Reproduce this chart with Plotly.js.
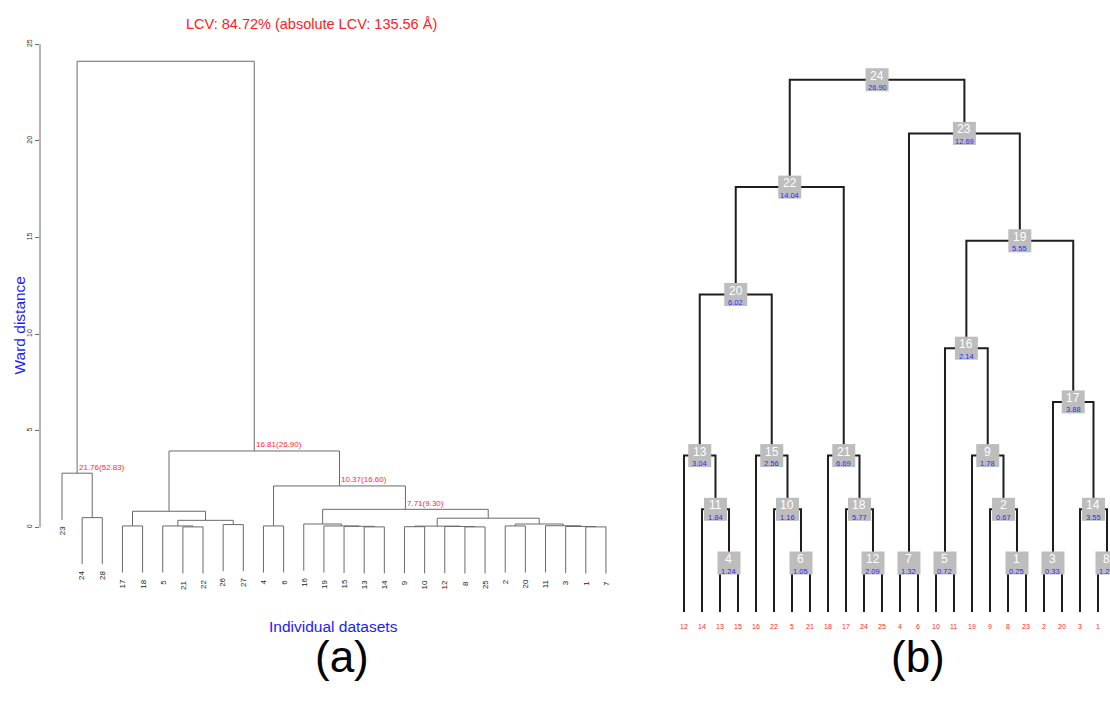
<!DOCTYPE html>
<html><head><meta charset="utf-8">
<script src="https://cdn.plot.ly/plotly-3.0.1.min.js"></script>
<style>html,body{margin:0;padding:0;background:#fff;} #chart{width:1110px;height:702px;}</style>
</head><body><div id="chart"></div>
<script>
// ---------- Panel (a): Ward dendrogram (R hclust style) ----------
const leafOrderA = [23,24,28,17,18,5,21,22,26,27,4,6,16,19,15,13,14,9,10,12,8,25,2,20,11,3,1,7];
// merge steps: negative = leaf label, positive = earlier merge step (1-based)
const mergeLeftA  = [-21,-13,-1,-8,-9,-12,-3,-15,5,-5,-17,-4,-19,-2,-11,-26,-16,14,10,9,-24,11,17,12,-23,22,25];
const mergeRightA = [-22,-14,-7,-25,-10,4,3,2,6,1,-18,-6,8,-20,7,-27,13,15,16,18,-28,19,20,23,21,24,26];
const mergeHeightA = [0.02,0.02,0.02,0.02,0.03,0.04,0.04,0.05,0.06,0.07,0.07,0.07,0.07,0.07,0.08,0.14,0.17,0.17,0.36,0.47,0.50,0.83,0.93,2.14,2.80,3.95,24.12];
const annotatedMergesA = [25,26,24,23];
const annotatedTextsA = ['21.76(52.83)','16.81(26.90)','10.37(16.60)','7.71(9.30)'];
const yTicksA = [0,5,10,15,20,25];

// ---------- Panel (b): numbered merge tree ----------
const leafOrderB = [12,14,13,15,16,22,5,21,18,17,24,25,4,6,10,11,19,9,8,23,2,20,3,1,7];
const nodeLeftB  = [-8,-9,-2,-13,-10,-5,-4,-1,-19,-22,-14,-24,-12,-3,-16,5,3,-17,16,13,-18,20,7,22];
const nodeRightB = [-23,1,-20,-15,-11,-21,-6,-7,2,6,4,-25,11,8,10,9,14,12,17,15,18,21,19,23];
const nodeLevelB = [1,2,1,1,1,1,1,1,3,2,2,1,3,2,3,5,4,2,7,6,3,8,9,10];
const nodeValueB = ['0.25','0.67','0.33','1.24','0.72','1.05','1.32','1.27','1.78','1.16','1.84','2.09','3.04','3.55','2.56','2.14','3.88','5.77','5.55','6.02','6.69','14.04','12.69','26.90'];

const FONT = 'Liberation Sans, Arial, Helvetica, sans-serif';

// ----- layout of tree (a) -----
const posA = {}; leafOrderA.forEach((lab,i)=>posA[lab]=i+1);
const nxA = [];
const cxA = c => c<0 ? posA[-c] : nxA[c-1];
for (let k=0;k<mergeHeightA.length;k++) nxA[k] = (cxA(mergeLeftA[k]) + cxA(mergeRightA[k]))/2;
const hangA = 0.1*Math.max(...mergeHeightA);
const segAx=[], segAy=[];
const leafBottomA = {};
for (let k=0;k<mergeHeightA.length;k++){
  const h = mergeHeightA[k];
  const L = mergeLeftA[k], R = mergeRightA[k];
  const bL = L<0 ? h-hangA : mergeHeightA[L-1];
  const bR = R<0 ? h-hangA : mergeHeightA[R-1];
  if (L<0) leafBottomA[-L]=bL; if (R<0) leafBottomA[-R]=bR;
  segAx.push(cxA(L),cxA(L),cxA(R),cxA(R),null);
  segAy.push(bL,h,h,bR,null);
}

// ----- layout of tree (b) -----
const posB = {}; leafOrderB.forEach((lab,i)=>posB[lab]=i);
const nxB = [];
const cxB = c => c<0 ? posB[-c] : nxB[c-1];
for (let k=0;k<nodeLevelB.length;k++) nxB[k] = (cxB(nodeLeftB[k]) + cxB(nodeRightB[k]))/2;
const leafEndB = 0.0875;
const segBx=[], segBy=[];
for (let k=0;k<nodeLevelB.length;k++){
  const h = nodeLevelB[k];
  const L = nodeLeftB[k], R = nodeRightB[k];
  const bL = L<0 ? leafEndB : nodeLevelB[L-1];
  const bR = R<0 ? leafEndB : nodeLevelB[R-1];
  segBx.push(cxB(L),cxB(L),cxB(R),cxB(R),null);
  segBy.push(bL,h,h,bR,null);
}

const traces = [
  {type:'scatter', mode:'lines', x:segAx, y:segAy, xaxis:'x', yaxis:'y',
   line:{color:'#6a6a6a', width:1}, hoverinfo:'skip', showlegend:false},
  {type:'scatter', mode:'lines', x:segBx, y:segBy, xaxis:'x2', yaxis:'y2',
   line:{color:'#1e1e1e', width:2}, hoverinfo:'skip', showlegend:false},
  {type:'scatter', mode:'markers', x:nxB, y:nodeLevelB, xaxis:'x2', yaxis:'y2',
   marker:{symbol:'square', size:23, color:'#bdbdbd', line:{width:0}}, hoverinfo:'skip', showlegend:false}
];

const ann = [];
// leaf labels (a)
leafOrderA.forEach((lab,i)=>{
  ann.push({xref:'x', yref:'y', x:i+1, y:leafBottomA[lab], text:String(lab), showarrow:false,
    textangle:-90, xanchor:'center', yanchor:'top', yshift:-5,
    font:{family:FONT, size:8, color:'#222'}});
});
// merge annotations (a)
annotatedMergesA.forEach((m,j)=>{
  ann.push({xref:'x', yref:'y', x:nxA[m-1], y:mergeHeightA[m-1], text:annotatedTextsA[j], showarrow:false,
    xanchor:'left', yanchor:'middle', xshift:0, yshift:6,
    font:{family:FONT, size:8, color:'#ff2a2a'}});
});
// node ids and values (b)
for (let k=0;k<nodeLevelB.length;k++){
  ann.push({xref:'x2', yref:'y2', x:nxB[k], y:nodeLevelB[k], text:String(k+1), showarrow:false,
    xanchor:'center', yanchor:'middle', yshift:4, font:{family:FONT, size:12, color:'#ffffff'}});
  ann.push({xref:'x2', yref:'y2', x:nxB[k], y:nodeLevelB[k], text:nodeValueB[k], showarrow:false,
    xanchor:'center', yanchor:'middle', yshift:-8, font:{family:FONT, size:7.5, color:'#2b2bff'}});
}
// leaf labels (b)
leafOrderB.forEach((lab,i)=>{
  ann.push({xref:'x2', yref:'y2', x:i, y:leafEndB, text:String(lab), showarrow:false,
    xanchor:'center', yanchor:'middle', yshift:-14, font:{family:FONT, size:7, color:'#ff2a2a'}});
});
// titles
ann.push({xref:'paper', yref:'paper', x:311/1110, y:1-24/702, text:'LCV: 84.72% (absolute LCV: 135.56 Å)',
  showarrow:false, xanchor:'center', yanchor:'middle', font:{family:FONT, size:14.5, color:'#ff2020'}});
ann.push({xref:'paper', yref:'paper', x:18.5/1110, y:1-325/702, text:'Ward distance', textangle:-90,
  showarrow:false, xanchor:'center', yanchor:'middle', font:{family:FONT, size:15.5, color:'#1a1aff'}});
ann.push({xref:'paper', yref:'paper', x:333/1110, y:1-626/702, text:'Individual datasets',
  showarrow:false, xanchor:'center', yanchor:'middle', font:{family:FONT, size:15.5, color:'#1a1aff'}});
ann.push({xref:'paper', yref:'paper', x:342/1110, y:1-656/702, text:'(a)',
  showarrow:false, xanchor:'center', yanchor:'middle', font:{family:FONT, size:44, color:'#000'}});
ann.push({xref:'paper', yref:'paper', x:918/1110, y:1-656/702, text:'(b)',
  showarrow:false, xanchor:'center', yanchor:'middle', font:{family:FONT, size:44, color:'#000'}});

const layout = {
  width:1110, height:702, margin:{l:0,r:0,t:0,b:0},
  paper_bgcolor:'#fff', plot_bgcolor:'rgba(0,0,0,0)',
  font:{family:FONT},
  showlegend:false,
  xaxis:{domain:[40/1110, 640/1110], range:[-0.092, 29.69], visible:false, fixedrange:true},
  yaxis:{domain:[122/702, 662/702], range:[-2.728, 25.22], showgrid:false, zeroline:false, showline:false,
    ticks:'outside', ticklen:4, tickwidth:1, tickcolor:'#6a6a6a', tickvals:yTicksA, ticktext:yTicksA.map(String),
    tickangle:-90, tickfont:{family:FONT, size:7, color:'#333'}, fixedrange:true},
  xaxis2:{domain:[660/1110, 1], range:[-1.333, 23.667], visible:false, anchor:'y2', fixedrange:true},
  yaxis2:{domain:[82/702, 642/702], range:[-0.0615, 10.367], visible:false, anchor:'x2', fixedrange:true},
  shapes:[{type:'line', xref:'paper', yref:'y', x0:40/1110, x1:40/1110, y0:0, y1:25,
    line:{color:'#6a6a6a', width:1}}],
  annotations:ann
};
Plotly.newPlot('chart', traces, layout, {displayModeBar:false, staticPlot:true});
</script>
</body></html>
